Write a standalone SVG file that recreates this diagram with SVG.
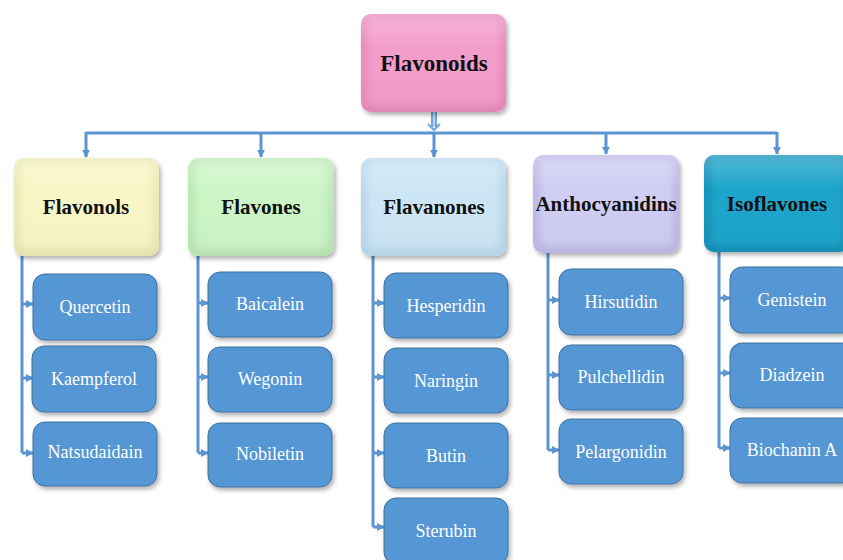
<svg xmlns="http://www.w3.org/2000/svg" width="843" height="560" viewBox="0 0 843 560">
<defs>
<filter id="sh" x="-10%" y="-10%" width="125%" height="130%">
<feDropShadow dx="2" dy="3" stdDeviation="2" flood-color="#000" flood-opacity="0.3"/>
</filter>
<filter id="bl" x="-10%" y="-10%" width="120%" height="120%">
<feGaussianBlur stdDeviation="3"/>
</filter>
<linearGradient id="gloss" x1="0" y1="0" x2="0" y2="1">
<stop offset="0" stop-color="#fff" stop-opacity="0.25"/>
<stop offset="0.35" stop-color="#fff" stop-opacity="0"/>
<stop offset="1" stop-color="#000" stop-opacity="0.03"/>
</linearGradient>
<marker id="ah" viewBox="0 0 10 10" refX="9" refY="5" markerUnits="userSpaceOnUse" markerWidth="8" markerHeight="8" orient="auto">
<path d="M0,0 L10,5 L0,10 Z" fill="#5A95D2"/>
</marker>
</defs>
<style>
.con{fill:none;stroke:#5A95D2;stroke-width:3}
.arr{fill:none;stroke:#5A95D2;stroke-width:3;marker-end:url(#ah)}
.hd{font-family:"Liberation Serif","Times New Roman",serif;font-weight:bold;fill:#111;text-anchor:middle}
.ch rect{fill:#5596D5;stroke:#41719C;stroke-width:1}
.ch text{font-family:"Liberation Serif","Times New Roman",serif;font-size:18px;fill:#fff;text-anchor:middle}
.gl{fill:url(#gloss)}
</style>
<rect width="843" height="560" fill="#fff"/>

<g id="connectors">
<path d="M434,112 V127" fill="none" stroke="#6FA6DA" stroke-width="6"/>
<path d="M434,112 V127" fill="none" stroke="#B9D6F0" stroke-width="2"/>
<path d="M428,124 L434,130 L440,124" fill="none" stroke="#6FA6DA" stroke-width="2"/>
<path class="con" d="M86,133 H777"/>
<path class="arr" d="M86,132 V157"/>
<path class="arr" d="M261,132 V157"/>
<path class="arr" d="M434,132 V157"/>
<path class="arr" d="M606,132 V154"/>
<path class="arr" d="M777,132 V154"/>
<path class="con" d="M22,256 V453"/>
<path class="arr" d="M22,304 H33"/>
<path class="arr" d="M22,378 H33"/>
<path class="arr" d="M22,453 H33"/>
<path class="con" d="M198,256 V453"/>
<path class="arr" d="M198,303 H208"/>
<path class="arr" d="M198,377 H208"/>
<path class="arr" d="M198,453 H208"/>
<path class="con" d="M373,256 V527"/>
<path class="arr" d="M373,303 H384"/>
<path class="arr" d="M373,377 H384"/>
<path class="arr" d="M373,453 H384"/>
<path class="arr" d="M373,527 H384"/>
<path class="con" d="M548,253 V450"/>
<path class="arr" d="M548,300 H559"/>
<path class="arr" d="M548,375 H559"/>
<path class="arr" d="M548,450 H559"/>
<path class="con" d="M719,252 V448"/>
<path class="arr" d="M719,298 H730"/>
<path class="arr" d="M719,373 H730"/>
<path class="arr" d="M719,448 H730"/>
</g>

<g id="flavonoids">
<rect x="361" y="14" width="145" height="98" rx="10" fill="#E98CBE" filter="url(#sh)"/>
<rect x="368" y="20" width="131" height="85" rx="6" fill="#F39DCB" filter="url(#bl)"/>
<rect x="361" y="14" width="145" height="98" rx="10" class="gl"/>
<text class="hd" x="434" y="71" font-size="23">Flavonoids</text>
</g>

<g id="flavonols">
<rect x="14" y="158" width="145" height="98" rx="10" fill="#EDE9B6" filter="url(#sh)"/>
<rect x="21" y="164" width="131" height="85" rx="6" fill="#F8F5C6" filter="url(#bl)"/>
<rect x="14" y="158" width="145" height="98" rx="10" class="gl"/>
<text class="hd" x="86" y="214" font-size="21">Flavonols</text>
</g>

<g id="flavones">
<rect x="188" y="158" width="146" height="98" rx="10" fill="#BBE8B4" filter="url(#sh)"/>
<rect x="195" y="164" width="132" height="85" rx="6" fill="#CCF5C6" filter="url(#bl)"/>
<rect x="188" y="158" width="146" height="98" rx="10" class="gl"/>
<text class="hd" x="261" y="214" font-size="21">Flavones</text>
</g>

<g id="flavanones">
<rect x="361" y="158" width="145" height="98" rx="10" fill="#B9D9EC" filter="url(#sh)"/>
<rect x="368" y="164" width="131" height="85" rx="6" fill="#CCE6F5" filter="url(#bl)"/>
<rect x="361" y="158" width="145" height="98" rx="10" class="gl"/>
<text class="hd" x="434" y="214" font-size="21">Flavanones</text>
</g>

<g id="anthocyanidins">
<rect x="533" y="155" width="146" height="98" rx="10" fill="#BDBAE6" filter="url(#sh)"/>
<rect x="540" y="161" width="132" height="85" rx="6" fill="#CFCDF3" filter="url(#bl)"/>
<rect x="533" y="155" width="146" height="98" rx="10" class="gl"/>
<text class="hd" x="606" y="211" font-size="21">Anthocyanidins</text>
</g>

<g id="isoflavones">
<rect x="704" y="155" width="146" height="97" rx="10" fill="#1393BB" filter="url(#sh)"/>
<rect x="711" y="161" width="132" height="84" rx="6" fill="#1AA4CB" filter="url(#bl)"/>
<rect x="704" y="155" width="146" height="97" rx="10" class="gl"/>
<text class="hd" x="777" y="211" font-size="21">Isoflavones</text>
</g>

<g id="quercetin" class="ch"><rect x="33" y="274" width="124" height="66" rx="12" filter="url(#sh)"/><text x="95" y="313">Quercetin</text></g>
<g id="kaempferol" class="ch"><rect x="32" y="346" width="124" height="66" rx="12" filter="url(#sh)"/><text x="94" y="385">Kaempferol</text></g>
<g id="natsudaidain" class="ch"><rect x="33" y="422" width="124" height="64" rx="12" filter="url(#sh)"/><text x="95" y="458">Natsudaidain</text></g>

<g id="baicalein" class="ch"><rect x="208" y="272" width="124" height="65" rx="12" filter="url(#sh)"/><text x="270" y="310">Baicalein</text></g>
<g id="wegonin" class="ch"><rect x="208" y="347" width="124" height="65" rx="12" filter="url(#sh)"/><text x="270" y="385">Wegonin</text></g>
<g id="nobiletin" class="ch"><rect x="208" y="423" width="124" height="64" rx="12" filter="url(#sh)"/><text x="270" y="460">Nobiletin</text></g>

<g id="hesperidin" class="ch"><rect x="384" y="273" width="124" height="65" rx="12" filter="url(#sh)"/><text x="446" y="312">Hesperidin</text></g>
<g id="naringin" class="ch"><rect x="384" y="348" width="124" height="65" rx="12" filter="url(#sh)"/><text x="446" y="387">Naringin</text></g>
<g id="butin" class="ch"><rect x="384" y="423" width="124" height="65" rx="12" filter="url(#sh)"/><text x="446" y="462">Butin</text></g>
<g id="sterubin" class="ch"><rect x="384" y="498" width="124" height="66" rx="12" filter="url(#sh)"/><text x="446" y="537">Sterubin</text></g>

<g id="hirsutidin" class="ch"><rect x="559" y="269" width="124" height="66" rx="12" filter="url(#sh)"/><text x="621" y="308">Hirsutidin</text></g>
<g id="pulchellidin" class="ch"><rect x="559" y="345" width="124" height="65" rx="12" filter="url(#sh)"/><text x="621" y="383">Pulchellidin</text></g>
<g id="pelargonidin" class="ch"><rect x="559" y="419" width="124" height="65" rx="12" filter="url(#sh)"/><text x="621" y="458">Pelargonidin</text></g>

<g id="genistein" class="ch"><rect x="730" y="267" width="124" height="66" rx="12" filter="url(#sh)"/><text x="792" y="306">Genistein</text></g>
<g id="diadzein" class="ch"><rect x="730" y="343" width="124" height="65" rx="12" filter="url(#sh)"/><text x="792" y="381">Diadzein</text></g>
<g id="biochanin" class="ch"><rect x="730" y="418" width="124" height="65" rx="12" filter="url(#sh)"/><text x="792" y="456">Biochanin A</text></g>
</svg>
